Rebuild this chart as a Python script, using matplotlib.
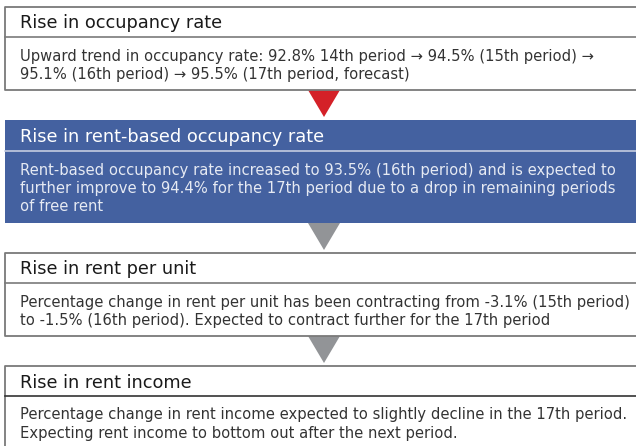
import matplotlib.pyplot as plt
from matplotlib.patches import Rectangle, Polygon

plt.rcParams['font.family'] = ['DejaVu Sans']

titles = [
    "Rise in occupancy rate",
    "Rise in rent-based occupancy rate",
    "Rise in rent per unit",
    "Rise in rent income",
]
bodies = [
    "Upward trend in occupancy rate: 92.8% 14th period \u2192 94.5% (15th period) \u2192\n"
    "95.1% (16th period) \u2192 95.5% (17th period, forecast)",
    "Rent-based occupancy rate increased to 93.5% (16th period) and is expected to\n"
    "further improve to 94.4% for the 17th period due to a drop in remaining periods\n"
    "of free rent",
    "Percentage change in rent per unit has been contracting from -3.1% (15th period)\n"
    "to -1.5% (16th period). Expected to contract further for the 17th period",
    "Percentage change in rent income expected to slightly decline in the 17th period.\n"
    "Expecting rent income to bottom out after the next period.",
]
highlight = [False, True, False, False]
arrow_colors = ["#d42128", "#929497", "#929497"]

# box rows in pixels: top, header divider, bottom
rows = [(7, 37, 90), (120, 151, 223), (253, 283, 336), (366, 396, 460)]

W, H = 636, 446
fig = plt.figure(figsize=(W / 100, H / 100), dpi=100)
ax = fig.add_axes([0, 0, 1, 1])
ax.set_xlim(0, W)
ax.set_ylim(H, 0)
ax.axis('off')

left = 4.5
blue = "#4461a0"
edge = "#7a7a7a"

for i, (top, mid, bot) in enumerate(rows):
    if highlight[i]:
        ax.add_patch(Rectangle((left, top), W - left + 5, bot - top,
                               facecolor=blue, edgecolor='none'))
        ax.plot([left, W], [mid, mid], color="#c5cde0", lw=1.2)
        tc = 'white'
        bc = '#e6eaf3'
    else:
        ax.plot([W + 5, left, left, W + 5], [top, top, bot, bot], color=edge, lw=1.3)
        ax.plot([left, W], [mid, mid], color="#333333" if i == 3 else edge, lw=1.2)
        tc = '#1a1a1a'
        bc = '#333333'
    ax.text(20, (top + mid) / 2 + 1.5, titles[i], fontsize=12.8, color=tc,
            va='center', ha='left')
    ax.text(20, mid + 11.5, bodies[i], fontsize=10.6, color=bc, va='top', ha='left',
            linespacing=1.27)

for i, c in enumerate(arrow_colors):
    y0 = rows[i][2]
    y1 = rows[i + 1][0] - 3
    ax.add_patch(Polygon([(308, y0), (340, y0), (324, y1)], closed=True,
                         facecolor=c, edgecolor='none'))

fig.savefig("out.png", dpi=100)
